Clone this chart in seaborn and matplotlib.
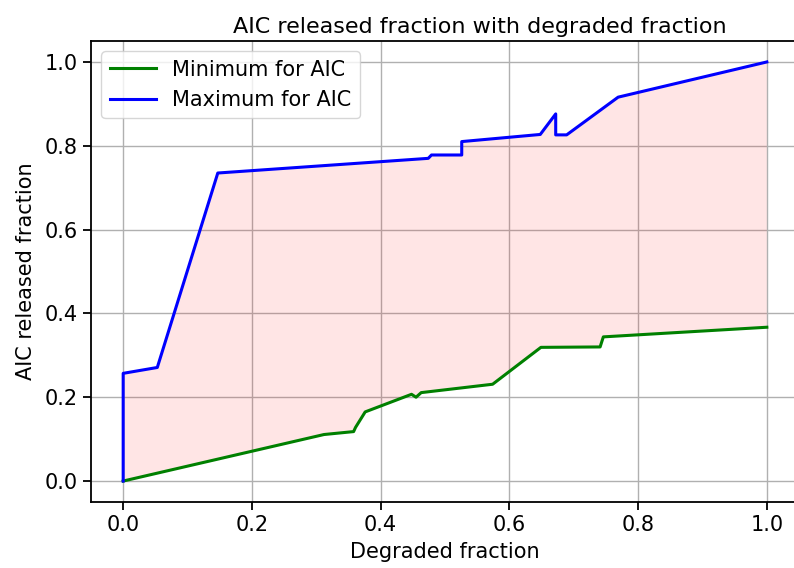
import numpy as np
import pandas as pd
import matplotlib
matplotlib.use("Agg")
import matplotlib.pyplot as plt
import seaborn as sns

# Upper bound of AIC released fraction vs degraded fraction
max_x = [0.0, 0.0, 0.053, 0.147, 0.474, 0.479, 0.526, 0.526, 0.648, 0.672, 0.672, 0.689, 0.769, 1.0]
max_y = [0.0, 0.257, 0.271, 0.735, 0.770, 0.778, 0.778, 0.810, 0.827, 0.876, 0.826, 0.826, 0.916, 1.0]

# Lower bound of AIC released fraction vs degraded fraction
min_x = [0.0, 0.312, 0.358, 0.361, 0.376, 0.448, 0.455, 0.463, 0.574, 0.649, 0.741, 0.746, 1.0]
min_y = [0.0, 0.111, 0.118, 0.128, 0.165, 0.207, 0.200, 0.211, 0.231, 0.319, 0.320, 0.344, 0.367]

xticks = [0.0, 0.2, 0.4, 0.6, 0.8, 1.0]
yticks = [0.0, 0.2, 0.4, 0.6, 0.8, 1.0]

df_min = pd.DataFrame({"x": min_x, "y": min_y})
df_max = pd.DataFrame({"x": max_x, "y": max_y})

plt.rcParams["font.family"] = ["DejaVu Sans"]
plt.rcParams["savefig.bbox"] = None
fig = plt.figure(figsize=(7.94, 5.68), dpi=100)
# plot area runs past the right edge of the canvas
ax = fig.add_axes([91 / 794, 66 / 568, 708 / 794, 461 / 568])

# shaded band between the two bounds
poly_x = np.concatenate([np.array(max_x), np.array(min_x)[::-1]])
poly_y = np.concatenate([np.array(max_y), np.array(min_y)[::-1]])
ax.fill(poly_x, poly_y, color="red", alpha=0.1, linewidth=0, zorder=1)

sns.lineplot(data=df_min, x="x", y="y", sort=False, estimator=None, color="green",
             linewidth=2.2, label="Minimum for AIC", ax=ax, zorder=3)
sns.lineplot(data=df_max, x="x", y="y", sort=False, estimator=None, color="blue",
             linewidth=2.2, label="Maximum for AIC", ax=ax, zorder=3)

ax.set_xlim(-0.05, 1.05)
ax.set_ylim(-0.05, 1.05)
ax.set_xticks(xticks)
ax.set_yticks(yticks)
ax.set_xticklabels([f"{t:.1f}" for t in xticks])
ax.set_yticklabels([f"{t:.1f}" for t in yticks])
ax.grid(True, color="#b0b0b0", linewidth=1.0, zorder=0)
ax.set_axisbelow(True)
for s in ax.spines.values():
    s.set_linewidth(1.3)
    s.set_color("black")
ax.spines["right"].set_visible(False)
ax.tick_params(labelsize=15, length=6, width=1.3)

ax.set_title("AIC released fraction with degraded fraction", fontsize=16, pad=6, x=0.549)
ax.set_xlabel("Degraded fraction", fontsize=15, labelpad=5)
ax.set_ylabel("AIC released fraction", fontsize=15, labelpad=6)
ax.legend(loc="upper left", fontsize=15, handlelength=2.2, framealpha=0.8)

fig.savefig("out.png", dpi=100, bbox_inches=None)
